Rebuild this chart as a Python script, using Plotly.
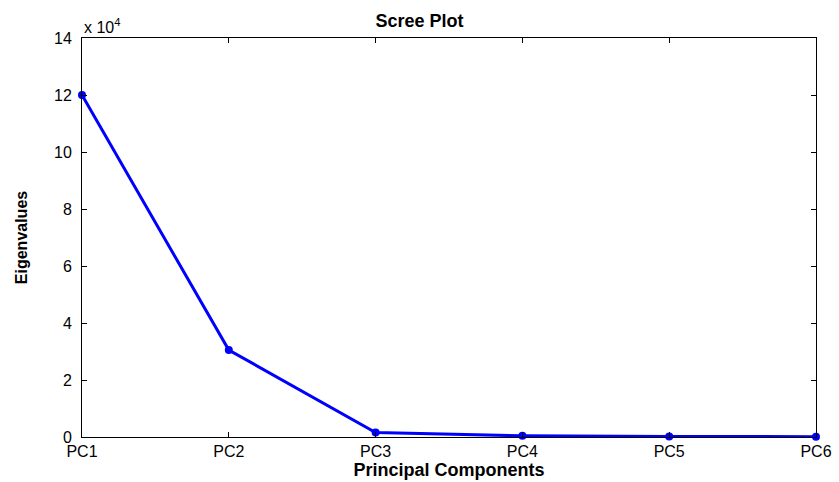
import plotly.graph_objects as go

components = ["PC1", "PC2", "PC3", "PC4", "PC5", "PC6"]
eigenvalues = [120000, 30500, 1600, 400, 200, 100]
scale = 1e4
y_ticks = [0, 2, 4, 6, 8, 10, 12, 14]

y_scaled = [v / scale for v in eigenvalues]
x_idx = list(range(len(components)))

fig = go.Figure()
fig.add_trace(go.Scatter(
    x=x_idx, y=y_scaled, mode="lines+markers",
    line=dict(color="#0000FF", width=3),
    marker=dict(color="#0000FF", size=8, symbol="circle"),
    cliponaxis=False, showlegend=False,
))

font_family = "Liberation Sans, Arial, sans-serif"
fig.update_layout(
    width=839, height=482,
    margin=dict(l=82, r=23, t=38, b=45),
    paper_bgcolor="white", plot_bgcolor="white",
    font=dict(family=font_family, size=16, color="black"),
    title=dict(text="<b>Scree Plot</b>", x=0.5, xanchor="center", y=1 - 21 / 482,
               yanchor="middle", font=dict(size=18)),
    xaxis=dict(
        range=[0, len(components) - 1], tickmode="array", tickvals=x_idx,
        ticktext=components, ticks="inside", ticklen=5, tickcolor="black",
        showline=True, linecolor="black", linewidth=1, mirror="ticks",
        showgrid=False, zeroline=False, ticklabelstandoff=0, automargin=False,
        title=dict(text="<b>Principal Components</b>", font=dict(size=18), standoff=0),
    ),
    yaxis=dict(
        range=[0, 14], tickmode="array", tickvals=y_ticks,
        ticktext=[str(t) for t in y_ticks], ticks="inside", ticklen=5, tickcolor="black",
        showline=True, linecolor="black", linewidth=1, mirror="ticks",
        showgrid=False, zeroline=False, ticklabelstandoff=6, automargin=False,
        title=dict(text="<b>Eigenvalues</b>", font=dict(size=16), standoff=22),
    ),
    annotations=[dict(
        text="x 10<sup>4</sup>", xref="paper", yref="paper", x=0, y=1,
        xanchor="left", yanchor="bottom", showarrow=False, yshift=0,
        font=dict(size=16),
    )],
)

fig.write_html("out.html")
